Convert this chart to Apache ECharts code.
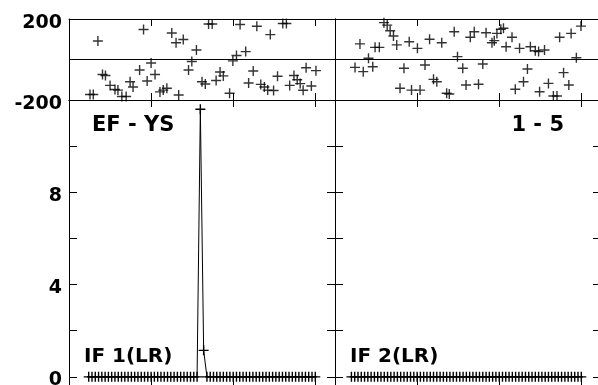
<!DOCTYPE html>
<html>
<head>
<meta charset="utf-8">
<script src="https://cdn.jsdelivr.net/npm/echarts@6/dist/echarts.min.js"></script>
<style>
    html, body { margin: 0; padding: 0; background: #fff; }
    #chart { width: 598px; height: 385px; }
</style>
</head>
<body>
<div id="chart"></div>
<script>
// top-left panel (EF - YS): sample index / value
const efX = [6.4, 7.4, 8.8, 10.2, 11.1, 12.5, 14.0, 14.9, 16.1, 17.4, 18.6, 19.5, 21.5, 22.7, 23.8, 25.0,
    26.2, 27.7, 28.7, 29.8, 31.3, 32.6, 33.4, 34.8, 36.4, 37.4, 38.8, 40.5, 41.5, 42.5, 43.6, 44.8,
    46.0, 47.0, 48.9, 49.9, 51.0, 52.1, 53.8, 54.7, 56.1, 57.2, 58.4, 59.5, 60.5, 61.3, 62.3, 63.5,
    65.1, 66.2, 67.2, 68.5, 69.5, 70.4, 71.3, 72.2, 73.8, 75.2]
const efY = [-173, -173, 91, -74, -79, -128, -148, -151, -183, -183, -110, -136, -52, 148, -106, -17,
    -74, -160, -151, -142, 131, 83, -175, 99, -52, -10, 47, -110, -121, 175, 175, -104,
    -62, -81, -167, -7, 20, 173, 39, -116, -57, 164, -123, -136, -151, 123, -153, -83,
    178, 178, -128, -79, -100, -119, -152, -41, -131, -55]

// top-right panel (1 - 5)
const r15X = [6.1, 7.6, 8.6, 10.2, 11.5, 12.2, 13.5, 14.9, 15.9, 16.8, 17.8, 18.8, 19.8, 21.0, 22.6, 23.3,
    25.1, 25.9, 27.4, 28.8, 30.0, 31.0, 32.5, 34.0, 34.8, 36.3, 37.3, 38.9, 39.9, 41.2, 42.4, 43.7,
    45.0, 46.0, 47.8, 48.5, 49.3, 50.5, 51.3, 52.1, 53.9, 54.9, 56.2, 57.4, 58.6, 59.5, 61.0, 62.0,
    62.3, 63.8, 65.0, 66.5, 67.6, 68.4, 69.6, 71.2, 71.9, 73.5, 74.9]
const r15Y = [-39, 77, -60, 6, -36, 60, 60, 182, 170, 142, 116, 72, -142, -43, 88, -151,
    55, -151, -27, 100, -98, -110, 83, -167, -170, 137, 14, -43, -126, 110, 137, -122,
    -22, 132, 83, 93, 129, 149, 154, 63, 110, -147, 55, -110, -47, 63, 43, 39,
    -159, 47, -118, -180, -180, 110, -65, -126, 129, 9, 165]

// bottom panels: IF values, one per sample starting at given index
const if1Start = 6
const if1Values = [0, 0, 0, 0, 0, 0, 0, 0, 0, 0, 0, 0, 0, 0, 0, 0, 0, 0, 0, 0, 0, 0, 0, 0, 0, 0, 0, 0, 0, 0, 0, 0, 0, 0,
    11.6, 1.15,
    0, 0, 0, 0, 0, 0, 0, 0, 0, 0, 0, 0, 0, 0, 0, 0, 0, 0, 0, 0, 0, 0, 0, 0, 0, 0, 0, 0, 0, 0, 0, 0, 0, 0]
const if2Start = 5
const if2Values = [0, 0, 0, 0, 0, 0, 0, 0, 0, 0, 0, 0, 0, 0, 0, 0, 0, 0, 0, 0, 0, 0, 0, 0, 0, 0, 0, 0, 0, 0, 0, 0, 0, 0, 0,
    0, 0, 0, 0, 0, 0, 0, 0, 0, 0, 0, 0, 0, 0, 0, 0, 0, 0, 0, 0, 0, 0, 0, 0, 0, 0, 0, 0, 0, 0, 0, 0, 0, 0, 0, 0]

const topLabels = [200, -200]
const bottomLabels = [0, 4, 8]

const plus = 'path://M4.3,0h1.4v4.3h4.3v1.4h-4.3v4.3h-1.4v-4.3h-4.3v-1.4h4.3z'
const font = 'DejaVu Sans'
const black = '#000'

const chart = echarts.init(document.getElementById('chart'))

const grids = [
    { left: 69, top: 19, width: 266, height: 81 },
    { left: 335, top: 19, width: 266, height: 81 },
    { left: 69, top: 100, width: 266, height: 323 },
    { left: 335, top: 100, width: 266, height: 323 }
].map(g => Object.assign({ outerBoundsMode: 'none', containLabel: false }, g))

const line = { show: true, onZero: false, lineStyle: { color: black, width: 1 } }

function xAxes(gridIndex, bottomTick) {
    return ['bottom', 'top'].map(pos => ({
        type: 'value', gridIndex, position: pos, min: 0, max: 81, interval: 25,
        axisLine: line,
        axisTick: { show: true, inside: true, length: pos === 'bottom' ? bottomTick : 7, lineStyle: { color: black } },
        axisLabel: { show: false },
        splitLine: { show: false }
    }))
}

function yAxes(gridIndex, top, labels) {
    return ['left', 'right'].map(pos => ({
        type: 'value', gridIndex, position: pos,
        min: top ? -200 : -2, max: top ? 200 : 12, interval: top ? 200 : 2,
        axisLine: line,
        axisTick: { show: !top, inside: true, length: 8, lineStyle: { color: black } },
        axisLabel: {
            show: pos === 'left' && !!labels,
            margin: 7, color: black, fontFamily: font, fontWeight: 'bold', fontSize: 19,
            verticalAlign: 'top', lineHeight: top ? 9 : 7,
            formatter: v => (labels && labels.includes(v)) ? String(v) : ''
        },
        splitLine: { show: top && pos === 'left', lineStyle: { color: black, width: 1 } }
    }))
}

const scatterStyle = { symbol: plus, symbolSize: 10, itemStyle: { color: black }, silent: true }

chart.setOption({
    animation: false,
    backgroundColor: '#fff',
    grid: grids,
    xAxis: [...xAxes(0, 7), ...xAxes(1, 7), ...xAxes(2, 49), ...xAxes(3, 49)],
    yAxis: [...yAxes(0, true, topLabels), ...yAxes(1, true, null), ...yAxes(2, false, bottomLabels), ...yAxes(3, false, null)],
    series: [
        Object.assign({ type: 'scatter', xAxisIndex: 0, yAxisIndex: 0, data: efX.map((x, i) => [x, efY[i]]) }, scatterStyle),
        Object.assign({ type: 'scatter', xAxisIndex: 2, yAxisIndex: 2, data: r15X.map((x, i) => [x, r15Y[i]]) }, scatterStyle),
        Object.assign({
            type: 'line', xAxisIndex: 4, yAxisIndex: 4, showAllSymbol: true,
            lineStyle: { color: black, width: 1 },
            data: if1Values.map((v, i) => [if1Start + i, v])
        }, scatterStyle),
        Object.assign({
            type: 'line', xAxisIndex: 6, yAxisIndex: 6, showAllSymbol: true,
            lineStyle: { color: black, width: 1 },
            data: if2Values.map((v, i) => [if2Start + i, v])
        }, scatterStyle)
    ],
    graphic: [
        { type: 'text', x: 92, y: 126, style: { text: 'EF - YS', fill: black, font: `bold 21px "${font}"`, textVerticalAlign: 'middle' } },
        { type: 'text', x: 564, y: 126, style: { text: '1 - 5', fill: black, font: `bold 21px "${font}"`, textAlign: 'right', textVerticalAlign: 'middle' } },
        { type: 'text', x: 84, y: 357, style: { text: 'IF 1(LR)', fill: black, font: `bold 20px "${font}"`, textVerticalAlign: 'middle' } },
        { type: 'text', x: 350, y: 357, style: { text: 'IF 2(LR)', fill: black, font: `bold 20px "${font}"`, textVerticalAlign: 'middle' } }
    ]
})
</script>
</body>
</html>
